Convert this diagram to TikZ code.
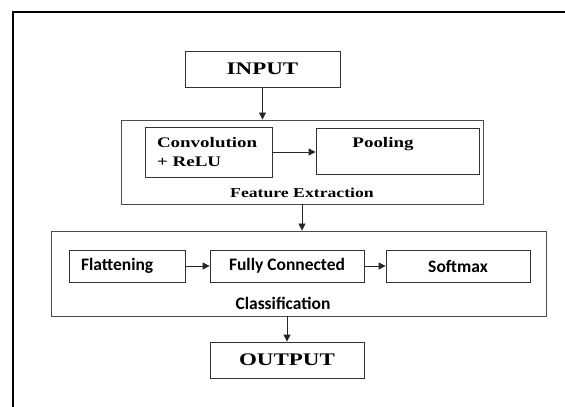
\documentclass[tikz,border=0pt]{standalone}
\usepackage{fontspec}
\usetikzlibrary{arrows.meta}
% Wide bold serif for the main blocks, Carlito for the classifier stages
\newfontfamily\headfont{Liberation Serif}[FakeStretch=1.3]
\newfontfamily\stagefont{Carlito}
\begin{document}
\begin{tikzpicture}[x=1pt,y=-1pt,
  box/.style={draw=black!80, line width=0.8pt, inner sep=0pt},
  group/.style={draw=black!70, line width=0.9pt, inner sep=0pt},
  flow/.style={-{Triangle[length=7pt,width=7pt]}, line width=0.8pt, draw=black!85},
  titlebig/.style={font=\headfont\bfseries\fontsize{17.7}{20}\selectfont},
  titlemid/.style={font=\headfont\bfseries\fontsize{14.6}{19}\selectfont},
  titlesmall/.style={font=\headfont\bfseries\fontsize{13.6}{16}\selectfont},
  stage/.style={font=\stagefont\bfseries\fontsize{17.5}{20}\selectfont}]

\useasboundingbox (0,0) rectangle (565,407);
\fill[white] (0,0) rectangle (565,407);

% page frame (top and left edges only)
\draw[line width=2pt, line cap=rect] (13,407) -- (13,12) -- (565,12);

% input
\node[box, titlebig, minimum width=155pt, minimum height=36pt] (input) at (262.5,69) {INPUT};

% feature extraction stage
\node[group, minimum width=362pt, minimum height=84pt] (fe) at (302,162) {};
\node[box, titlemid, minimum width=127pt, minimum height=50pt,
      text width=103pt, align=left] (conv) at (208.5,152) {Convolution\\+ ReLU};
\node[box, minimum width=163pt, minimum height=46pt] (pool) at (397.5,151) {};
\node[titlemid, inner sep=0pt, anchor=base] (poollabel) at (383,147) {Pooling};
\node[titlesmall, inner sep=0pt, anchor=base] (felabel) at (302,197) {Feature Extraction};

% classification stage
\node[group, minimum width=495pt, minimum height=85pt] (cls) at (298.5,273.5) {};
\node[box, stage, minimum width=116pt, minimum height=32pt,
      text width=92pt, align=left] (flat) at (127,266) {Flattening};
\node[box, stage, minimum width=154pt, minimum height=32pt] (fc) at (287,266) {Fully Connected};
\node[box, stage, minimum width=144pt, minimum height=32pt] (soft) at (458,266) {Softmax};
\node[stage, inner sep=0pt, anchor=base] (clslabel) at (283,309) {Classification};

% output
\node[box, titlebig, minimum width=154pt, minimum height=36pt] (output) at (287,360) {OUTPUT};

% connectors
\draw[flow] (input.south) -- (input.south |- fe.north);
\draw[flow] (conv.east) -- (conv.east -| pool.west);
\draw[flow] (fe.south) -- (fe.south |- cls.north);
\draw[flow] (flat.east) -- (fc.west);
\draw[flow] (fc.east) -- (soft.west);
\draw[flow] (cls.south -| output.north) -- (output.north);
\end{tikzpicture}
\end{document}
